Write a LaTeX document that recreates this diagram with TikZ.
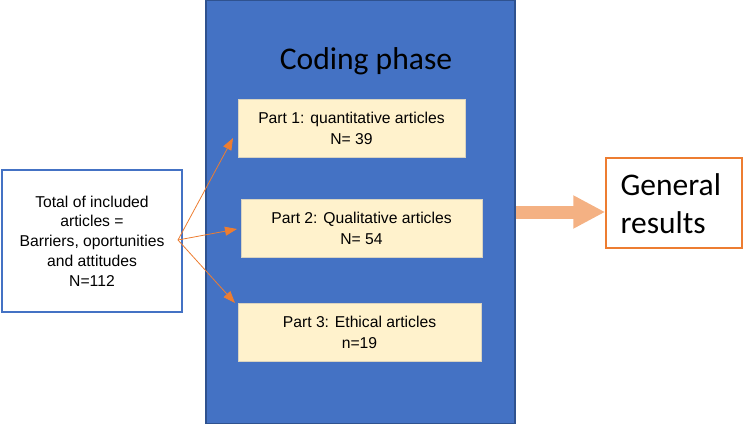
\documentclass[tikz,border=0pt]{standalone}
\usepackage{fontspec}
\setmainfont{Liberation Sans}
\newfontfamily\calib{Carlito}
\usetikzlibrary{arrows.meta}
\definecolor{blueF}{HTML}{4472C4}
\definecolor{blueD}{HTML}{2F528F}
\definecolor{cream}{HTML}{FFF2CC}
\definecolor{creamD}{HTML}{D9D3C0}
\definecolor{orng}{HTML}{ED7D31}
\definecolor{orngL}{HTML}{F4B183}
\tikzset{
  inbox/.style={draw=blueF, line width=1.2pt, fill=white, align=center, inner sep=0pt,
    font=\fontsize{15.7}{19.8}\selectfont},
  partbox/.style={draw=creamD, line width=0.6pt, fill=cream, align=center, inner sep=0pt,
    font=\fontsize{15.7}{21}\selectfont},
  thin arrow/.style={draw=orng, line width=0.8pt, -{Triangle[length=12pt,width=9pt]}},
}
\begin{document}
\begin{tikzpicture}[x=1pt,y=-1pt]
\useasboundingbox (0,0) rectangle (744,425);
\node[draw=blueD, line width=1.5pt, fill=blueF, minimum width=309pt, minimum height=423pt, inner sep=0pt] (coding) at (360.5,212) {};
\node[font=\calib\fontsize{31.6}{36}\selectfont] (title) at (366,61) {Coding phase};
\node[inbox, minimum width=180pt, minimum height=142pt] (total) at (92,241)
  {Total of included\\articles =\\Barriers, oportunities\\and attitudes\\N=112};
\node[partbox, minimum width=227pt, minimum height=58pt] (p1) at (351.5,128)
  {Part 1: quantitative articles\\N= 39};
\node[partbox, minimum width=241pt, minimum height=58pt] (p2) at (361.5,228)
  {Part 2: Qualitative articles\\N= 54};
\node[partbox, minimum width=243pt, minimum height=58pt] (p3) at (359.5,332)
  {Part 3: Ethical articles\\n=19};
\node[draw=orng, line width=1.5pt, fill=white, minimum width=136pt, minimum height=90pt, inner sep=0pt] (gen) at (674,203) {};
\node[font=\calib\fontsize{31.5}{38}\selectfont, align=left, anchor=west] (gentext) at (617,204) {General\\results};
\coordinate (src) at (178,240);
\coordinate (e1) at (233,138);
\coordinate (e2) at (237,229);
\coordinate (e3) at (235,303);
\draw[thin arrow] (src) -- (e1);
\draw[thin arrow] (src) -- (e2);
\draw[thin arrow] (src) -- (e3);
\coordinate (bs) at (coding.east |- 0,212);
\draw[draw=orngL, line width=13pt, -{Triangle[length=32pt,width=31pt]}] (bs) -- (gen.west |- bs);
\end{tikzpicture}
\end{document}
